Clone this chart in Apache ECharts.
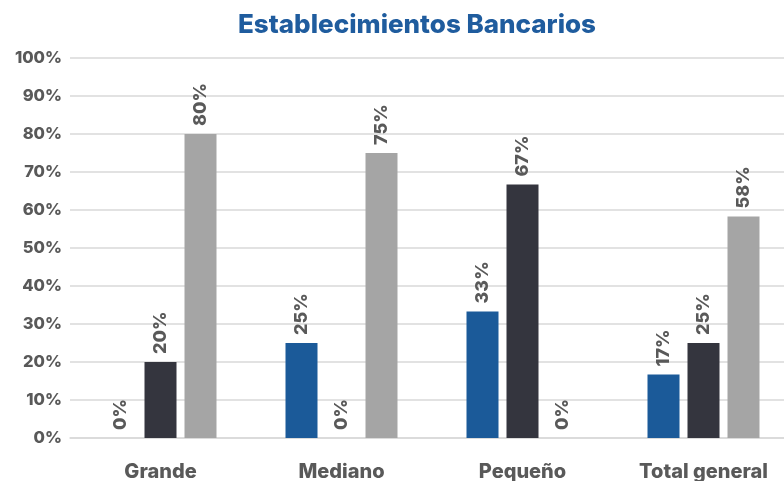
<!DOCTYPE html>
<html>
<head>
<meta charset="utf-8">
<script src="https://cdn.jsdelivr.net/npm/echarts@6/dist/echarts.min.js"></script>
<style>
  html, body { margin: 0; padding: 0; background: #fff; }
  #chart { width: 784px; height: 481px; }
</style>
</head>
<body>
<div id="chart"></div>
<script>
const categories = ['Grande', 'Mediano', 'Pequeño', 'Total general'];
const serieA = [0, 25, 33.3, 16.7];
const serieB = [20, 0, 66.7, 25];
const serieC = [80, 75, 0, 58.3];
const colors = ['#1b5a99', '#34353e', '#a5a5a5'];

const font = 'Inter, sans-serif';

function barSeries(name, data, color) {
    return {
        name: name,
        type: 'bar',
        data: data,
        barWidth: 32,
        barGap: '25%',
        itemStyle: { color: color },
        label: {
            show: true,
            position: 'top',
            rotate: 90,
            align: 'left',
            verticalAlign: 'middle',
            distance: 8,
            formatter: p => Math.round(p.value) + '%',
            color: '#595959',
            fontFamily: font,
            fontWeight: 800,
            fontSize: 18
        }
    };
}

const chart = echarts.init(document.getElementById('chart'));
chart.setOption({
    animation: false,
    title: {
        text: 'Establecimientos Bancarios',
        left: 412,
        textAlign: 'center',
        top: 7,
        textStyle: {
            color: '#1f5c9e',
            fontFamily: font,
            fontWeight: 800,
            fontSize: 26
        }
    },
    grid: { left: 70, top: 58, width: 724, height: 380, outerBoundsMode: 'none', containLabel: false },
    xAxis: {
        type: 'category',
        data: categories,
        axisTick: { show: false },
        axisLine: { lineStyle: { color: '#d9d9d9', width: 1.5 } },
        axisLabel: {
            color: '#595959',
            fontFamily: font,
            fontWeight: 800,
            fontSize: 20,
            margin: 24
        }
    },
    yAxis: {
        type: 'value',
        min: 0,
        max: 100,
        interval: 10,
        axisLine: { show: false },
        axisTick: { show: false },
        splitLine: { lineStyle: { color: '#d9d9d9', width: 1.5 } },
        axisLabel: {
            formatter: '{value}%',
            color: '#595959',
            fontFamily: font,
            fontWeight: 800,
            fontSize: 16.5,
            margin: 8
        }
    },
    series: [
        barSeries('A', serieA, colors[0]),
        barSeries('B', serieB, colors[1]),
        barSeries('C', serieC, colors[2])
    ]
});
</script>
</body>
</html>
